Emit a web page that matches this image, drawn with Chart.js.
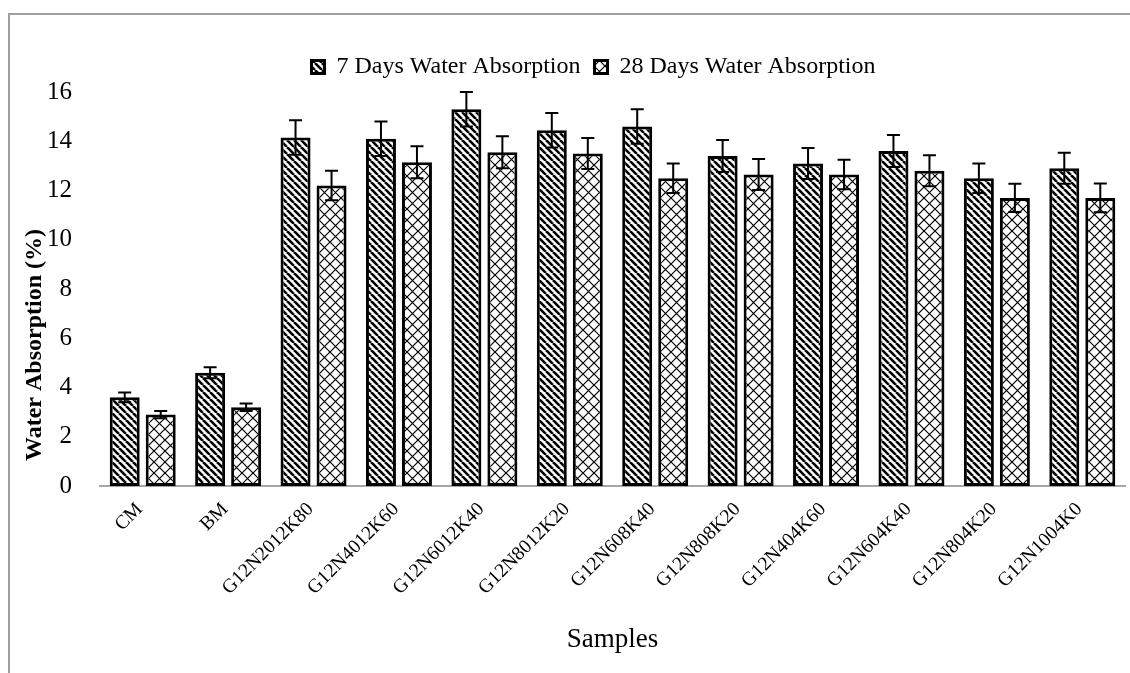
<!DOCTYPE html>
<html>
<head>
<meta charset="utf-8">
<title>Water Absorption</title>
<script src="https://cdn.jsdelivr.net/npm/chart.js@4.4.1/dist/chart.umd.min.js"></script>
<style>
  html, body { margin: 0; padding: 0; background: #fff; overflow: hidden; }
  #wrap { position: relative; width: 1130px; height: 673px; }
</style>
</head>
<body>
<div id="wrap"><canvas id="absorption"></canvas></div>
<script>
const samples = ['CM', 'BM', 'G12N2012K80', 'G12N4012K60', 'G12N6012K40', 'G12N8012K20',
    'G12N608K40', 'G12N808K20', 'G12N404K60', 'G12N604K40', 'G12N804K20', 'G12N1004K0'];

const absorption7 = [3.6, 4.6, 14.15, 14.1, 15.3, 14.45, 14.6, 13.4, 13.1, 13.6, 12.5, 12.9];
const absorption28 = [2.9, 3.2, 12.2, 13.15, 13.55, 13.5, 12.5, 12.65, 12.65, 12.8, 11.7, 11.7];

// standard deviations for the error bars
const error7 = [0.2, 0.22, 0.7, 0.7, 0.7, 0.7, 0.7, 0.65, 0.63, 0.65, 0.6, 0.63];
const error28 = [0.15, 0.15, 0.6, 0.65, 0.65, 0.63, 0.6, 0.63, 0.6, 0.63, 0.57, 0.58];

const yTicks = [0, 2, 4, 6, 8, 10, 12, 14, 16];

const serif = "'Liberation Serif', 'Times New Roman', serif";

// dense "\" stripes
function stripes() {
    const c = document.createElement('canvas');
    c.width = 7; c.height = 7;
    const g = c.getContext('2d');
    g.fillStyle = '#fff';
    g.fillRect(0, 0, 7, 7);
    g.strokeStyle = '#000';
    g.lineWidth = 2.6;
    for (const o of [-7, 0, 7]) {
        g.beginPath();
        g.moveTo(o, 0);
        g.lineTo(o + 7, 7);
        g.stroke();
    }
    return g.createPattern(c, 'repeat');
}

// diamond lattice
function lattice() {
    const s = 11;
    const c = document.createElement('canvas');
    c.width = s; c.height = s;
    const g = c.getContext('2d');
    g.fillStyle = '#fff';
    g.fillRect(0, 0, s, s);
    g.strokeStyle = '#000';
    g.lineWidth = 1.2;
    g.beginPath();
    g.moveTo(0, 0); g.lineTo(s, s);
    g.moveTo(s, 0); g.lineTo(0, s);
    g.stroke();
    return g.createPattern(c, 'repeat');
}

const errorBars = {
    id: 'errorBars',
    afterDatasetsDraw(chart) {
        const ctx = chart.ctx;
        const y = chart.scales.y;
        ctx.save();
        ctx.strokeStyle = '#000';
        ctx.lineWidth = 2;
        chart.data.datasets.forEach((ds, i) => {
            chart.getDatasetMeta(i).data.forEach((bar, j) => {
                const v = ds.data[j];
                const e = ds.errors[j];
                const top = y.getPixelForValue(v + e);
                const bot = y.getPixelForValue(v - e);
                ctx.beginPath();
                ctx.moveTo(bar.x, top);
                ctx.lineTo(bar.x, bot);
                ctx.moveTo(bar.x - 6.5, top);
                ctx.lineTo(bar.x + 6.5, top);
                ctx.moveTo(bar.x - 6.5, bot);
                ctx.lineTo(bar.x + 6.5, bot);
                ctx.stroke();
            });
        });
        ctx.restore();
    }
};

// outer border plus the rotated y-axis title
const frame = {
    id: 'frame',
    beforeDraw(chart) {
        const ctx = chart.ctx;
        ctx.save();
        ctx.strokeStyle = '#a0a0a0';
        ctx.lineWidth = 2;
        ctx.strokeRect(9, 14, 1400, 900);
        ctx.restore();
    },
    afterDraw(chart) {
        const ctx = chart.ctx;
        ctx.save();
        ctx.translate(35, 345);
        ctx.rotate(-Math.PI / 2);
        ctx.font = 'bold 24px ' + serif;
        ctx.fillStyle = '#000';
        ctx.textAlign = 'center';
        ctx.textBaseline = 'middle';
        ctx.fillText('Water Absorption (%)', 0, 0);
        ctx.restore();
    }
};

// fixed legend band height, legend nudged right
const legendBand = {
    id: 'legendBand',
    beforeLayout(chart) {
        const lg = chart.legend;
        if (lg && !lg._bandFixed) {
            const fit = lg.fit;
            lg.fit = function () {
                fit.call(this);
                this.height = 51;
            };
            lg._bandFixed = true;
        }
    },
    afterLayout(chart) {
        const lg = chart.legend;
        if (lg) {
            lg.left += 31;
            lg.right += 31;
        }
    }
};

Chart.defaults.color = '#000';

const config = {
    type: 'bar',
    data: {
        labels: samples,
        datasets: [{
            label: '7 Days Water Absorption',
            data: absorption7,
            errors: error7,
            backgroundColor: stripes(),
            borderColor: '#000',
            borderWidth: 3,
            borderSkipped: false
        }, {
            label: '28 Days Water Absorption',
            data: absorption28,
            errors: error28,
            backgroundColor: lattice(),
            borderColor: '#000',
            borderWidth: 3,
            borderSkipped: false
        }]
    },
    options: {
        responsive: true,
        maintainAspectRatio: false,
        animation: false,
        events: [],
        datasets: {
            bar: { categoryPercentage: 0.843, barPercentage: 0.833 }
        },
        layout: { padding: { top: 41, right: 5, left: 0, bottom: 0 } },
        plugins: {
            tooltip: { enabled: false },
            legend: {
                position: 'top',
                labels: {
                    font: { family: serif, size: 24 },
                    boxWidth: 13,
                    boxHeight: 13,
                    padding: 14
                }
            }
        },
        scales: {
            x: {
                grid: { display: false, drawTicks: false },
                border: { display: true, color: '#a6a6a6', width: 2 },
                ticks: {
                    font: { family: serif, size: 19.5 },
                    minRotation: 45,
                    maxRotation: 45,
                    padding: 12,
                    labelOffset: -3
                },
                title: {
                    display: true,
                    text: 'Samples',
                    font: { family: serif, size: 27 },
                    padding: { top: 0, bottom: 17 }
                },
                afterFit(scale) { scale.height = 187; }
            },
            y: {
                min: 0,
                max: 16,
                grid: { display: false, drawTicks: false },
                border: { display: false },
                afterBuildTicks(scale) {
                    scale.ticks = yTicks.map(v => ({ value: v }));
                },
                ticks: {
                    font: { family: serif, size: 25 },
                    padding: 28
                },
                afterFit(scale) { scale.width = 100; }
            }
        }
    },
    plugins: [legendBand, frame, errorBars]
};

const ctx = document.getElementById('absorption').getContext('2d');
if (ctx !== null) {
    const absorptionChart = new Chart(ctx, config);
}
</script>
</body>
</html>
